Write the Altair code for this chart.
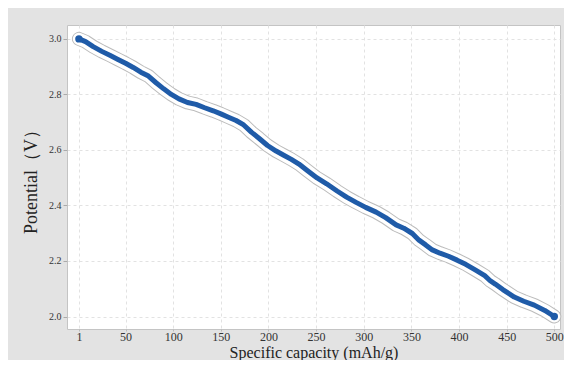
import altair as alt
import pandas as pd

capacity = [1, 8, 16, 25, 34, 42, 50, 58, 66, 74, 82, 90, 98, 106, 115, 124, 133, 142, 150, 158,
            166, 174, 182, 190, 199, 208, 216, 224, 232, 241, 251, 261, 272, 282, 292, 302, 313, 323, 334, 342,
            351, 358, 365, 372, 380, 389, 398, 407, 417, 427, 433, 438, 446, 458, 468, 479, 490, 500]
potential = [3.000, 2.990, 2.972, 2.955, 2.940, 2.926, 2.912, 2.897, 2.880, 2.866,
             2.842, 2.820, 2.800, 2.784, 2.771, 2.764, 2.752, 2.741, 2.730, 2.718,
             2.706, 2.690, 2.664, 2.642, 2.616, 2.596, 2.581, 2.566, 2.549, 2.525,
             2.499, 2.478, 2.452, 2.430, 2.411, 2.393, 2.376, 2.356, 2.330, 2.318,
             2.299, 2.275, 2.258, 2.240, 2.228, 2.217, 2.203, 2.188, 2.168, 2.147,
             2.128, 2.117, 2.097, 2.070, 2.055, 2.041, 2.022, 2.000]
x_ticks = [1, 50, 100, 150, 200, 250, 300, 350, 400, 450, 500]
y_ticks = [2.0, 2.2, 2.4, 2.6, 2.8, 3.0]

df = pd.DataFrame({"cap": capacity, "pot": potential})
ends = df.iloc[[0, -1]]

FONT = "Liberation Serif"

x_enc = alt.X("cap:Q", scale=alt.Scale(domain=[-11.5, 506], nice=False, zero=False),
              axis=alt.Axis(values=x_ticks, title="Specific capacity (mAh/g)",
                            grid=True, gridDash=[3, 3], gridColor="#e2e2e2",
                            tickSize=2, tickColor="#bbbbbb", domain=False,
                            labelPadding=0, labelFontSize=12,
                            titleBaseline="alphabetic", titleY=28, titleFontSize=16))
y_enc = alt.Y("pot:Q", scale=alt.Scale(domain=[1.955, 3.05], nice=False, zero=False),
              axis=alt.Axis(values=y_ticks, format=".1f", title="Potential（V）",
                            grid=True, gridDash=[3, 3], gridColor="#e2e2e2",
                            tickSize=4, tickColor="#aaaaaa", domain=False,
                            labelPadding=2, titlePadding=8, titleFontSize=18))

base = alt.Chart(df).encode(x=x_enc, y=y_enc)

outer = base.mark_line(color="#bcbcbc", strokeWidth=14, strokeJoin="round", strokeCap="round")
inner = base.mark_line(color="#ffffff", strokeWidth=12, strokeJoin="round", strokeCap="round")
core = base.mark_line(color="#1f5ba8", strokeWidth=5, strokeJoin="round", strokeCap="round")
dots = alt.Chart(ends).mark_circle(color="#1f5ba8", size=55, opacity=1).encode(x="cap:Q", y="pot:Q")

chart = alt.layer(outer, inner, core, dots).properties(
    width=493, height=304,
    autosize="none",
    padding={"left": 59, "top": 17, "right": 4, "bottom": 31},
    background="#e3e3e3",
).configure(
    font=FONT
).configure_view(
    fill="#ffffff", stroke="#c4c4c4", strokeWidth=1
).configure_axis(
    labelFont=FONT, labelColor="#333333",
    titleFont=FONT, titleFontWeight="normal", titleColor="#222222",
)

chart.save("out.html", embed_options={"renderer": "svg", "actions": False})
